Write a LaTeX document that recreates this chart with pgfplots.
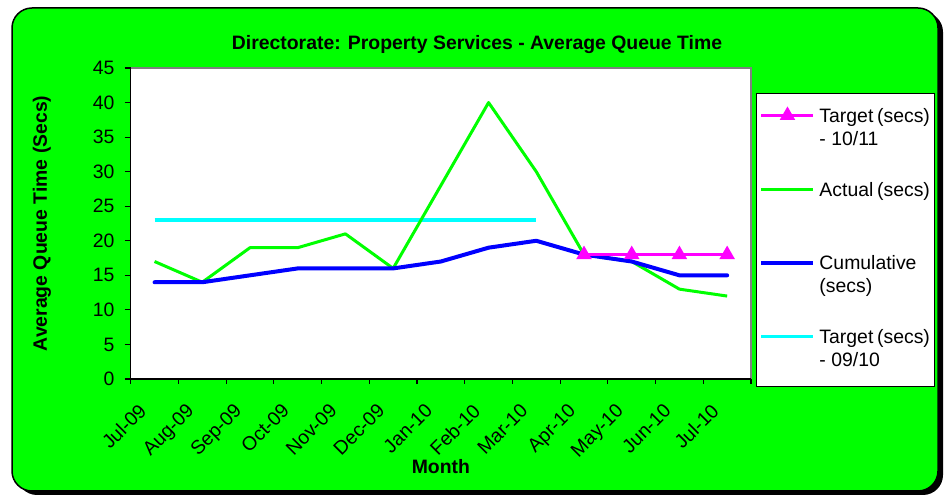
\documentclass[border=0pt]{standalone}
\usepackage{fontspec}
\setmainfont{Liberation Sans}
\usepackage{pgfplots}
\pgfplotsset{compat=1.18}
\definecolor{bggreen}{RGB}{0,255,0}
\definecolor{cyanline}{RGB}{0,255,255}
\definecolor{magline}{RGB}{255,0,255}
\definecolor{blueline}{RGB}{0,0,255}
\newcommand{\fs}{\fontsize{19.4bp}{23bp}\selectfont}
\begin{document}
\begin{tikzpicture}[x=1bp,y=1bp]
\path (0,0) rectangle (951,495);
\fill[black, rounded corners=20bp] (17,0) rectangle (943,483);
\filldraw[fill=bggreen, draw=black, line width=1.5bp, rounded corners=20bp] (12,4) rectangle (938,487);
\node[font=\fs\bfseries] at (477,450) {Directorate: Property Services - Average Queue Time};
\begin{axis}[
  at={(130.7bp,116bp)}, anchor=south west,
  scale only axis, width=620.3bp, height=311bp,
  xmin=-0.5, xmax=12.5, ymin=0, ymax=45,
  axis background/.style={fill=white, draw={rgb,255:red,128;green,128;blue,128}, line width=1.5bp},
  axis x line*=bottom, axis y line*=left,
  axis line style={-, black, line width=1.5bp},
  xtick={0,...,12},
  xticklabels={Jul-09,Aug-09,Sep-09,Oct-09,Nov-09,Dec-09,Jan-10,Feb-10,Mar-10,Apr-10,May-10,Jun-10,Jul-10},
  minor xtick={-0.5,0.5,...,12.5},
  ytick={0,5,...,45},
  tick align=outside,
  major tick length=6bp, minor tick length=5bp,
  major x tick style={draw=none},
  tick style={black, line width=1.2bp},
  xtick pos=bottom, ytick pos=left,
  tick label style={font=\fs},
  /pgf/number format/assume math mode=true,
  xticklabel style={xshift=-17bp, yshift=-16bp, rotate=45, anchor=north east, inner sep=1bp},
  yticklabel style={inner sep=3bp, xshift=-7bp},
  every axis x label/.style={at={(axis description cs:0.5,-0.283)}, anchor=center, font=\fs\bfseries},
  every axis y label/.style={at={(axis description cs:-0.143,0.5)}, rotate=90, anchor=center, font=\fs\bfseries},
  xlabel={Month}, ylabel={Average Queue Time (Secs)},
  legend style={at={(axis description cs:1.008,0.92)}, anchor=north west, draw=black, line width=1bp, fill=white, inner xsep=3bp, inner ysep=11bp, row sep=23.7bp, column sep=2bp, font=\fs, cells={anchor=base west}, nodes={inner sep=2bp, text depth=29.9bp}},
  legend image code/.code={\draw[mark repeat=2,mark phase=2,#1] plot coordinates {(0bp,7bp) (26bp,7bp) (52bp,7bp)};},
]
\addlegendimage{magline, line width=3bp, mark=triangle*, mark size=6bp, mark options={solid}}
\addlegendentry{\parbox[t]{110.5bp}{\strut Target (secs)\\\strut - 10/11}}
\addlegendimage{bggreen, line width=3bp}
\addlegendentry{\parbox[t]{110.5bp}{\strut Actual (secs)\\\strut}}
\addlegendimage{blueline, line width=4bp}
\addlegendentry{\parbox[t]{110.5bp}{\strut Cumulative\\\strut (secs)}}
\addlegendimage{cyanline, line width=3.5bp}
\addlegendentry{\parbox[t]{110.5bp}{\strut Target (secs)\\\strut - 09/10}}

\addplot[forget plot, cyanline, line width=3.5bp] coordinates {(0,23)(1,23)(2,23)(3,23)(4,23)(5,23)(6,23)(7,23)(8,23)};
\addplot[forget plot, bggreen, line width=3bp, line join=round] coordinates {(0,17)(1,14)(2,19)(3,19)(4,21)(5,16)(6,28)(7,40)(8,30)(9,18)(10,17)(11,13)(12,12)};
\addplot[forget plot, blueline, line width=4bp, line join=round, line cap=round] coordinates {(0,14)(1,14)(2,15)(3,16)(4,16)(5,16)(6,17)(7,19)(8,20)(9,18)(10,17)(11,15)(12,15)};
\addplot[forget plot, magline, line width=3bp, mark=triangle*, mark size=6bp] coordinates {(9,18)(10,18)(11,18)(12,18)};
\end{axis}
\end{tikzpicture}
\end{document}
